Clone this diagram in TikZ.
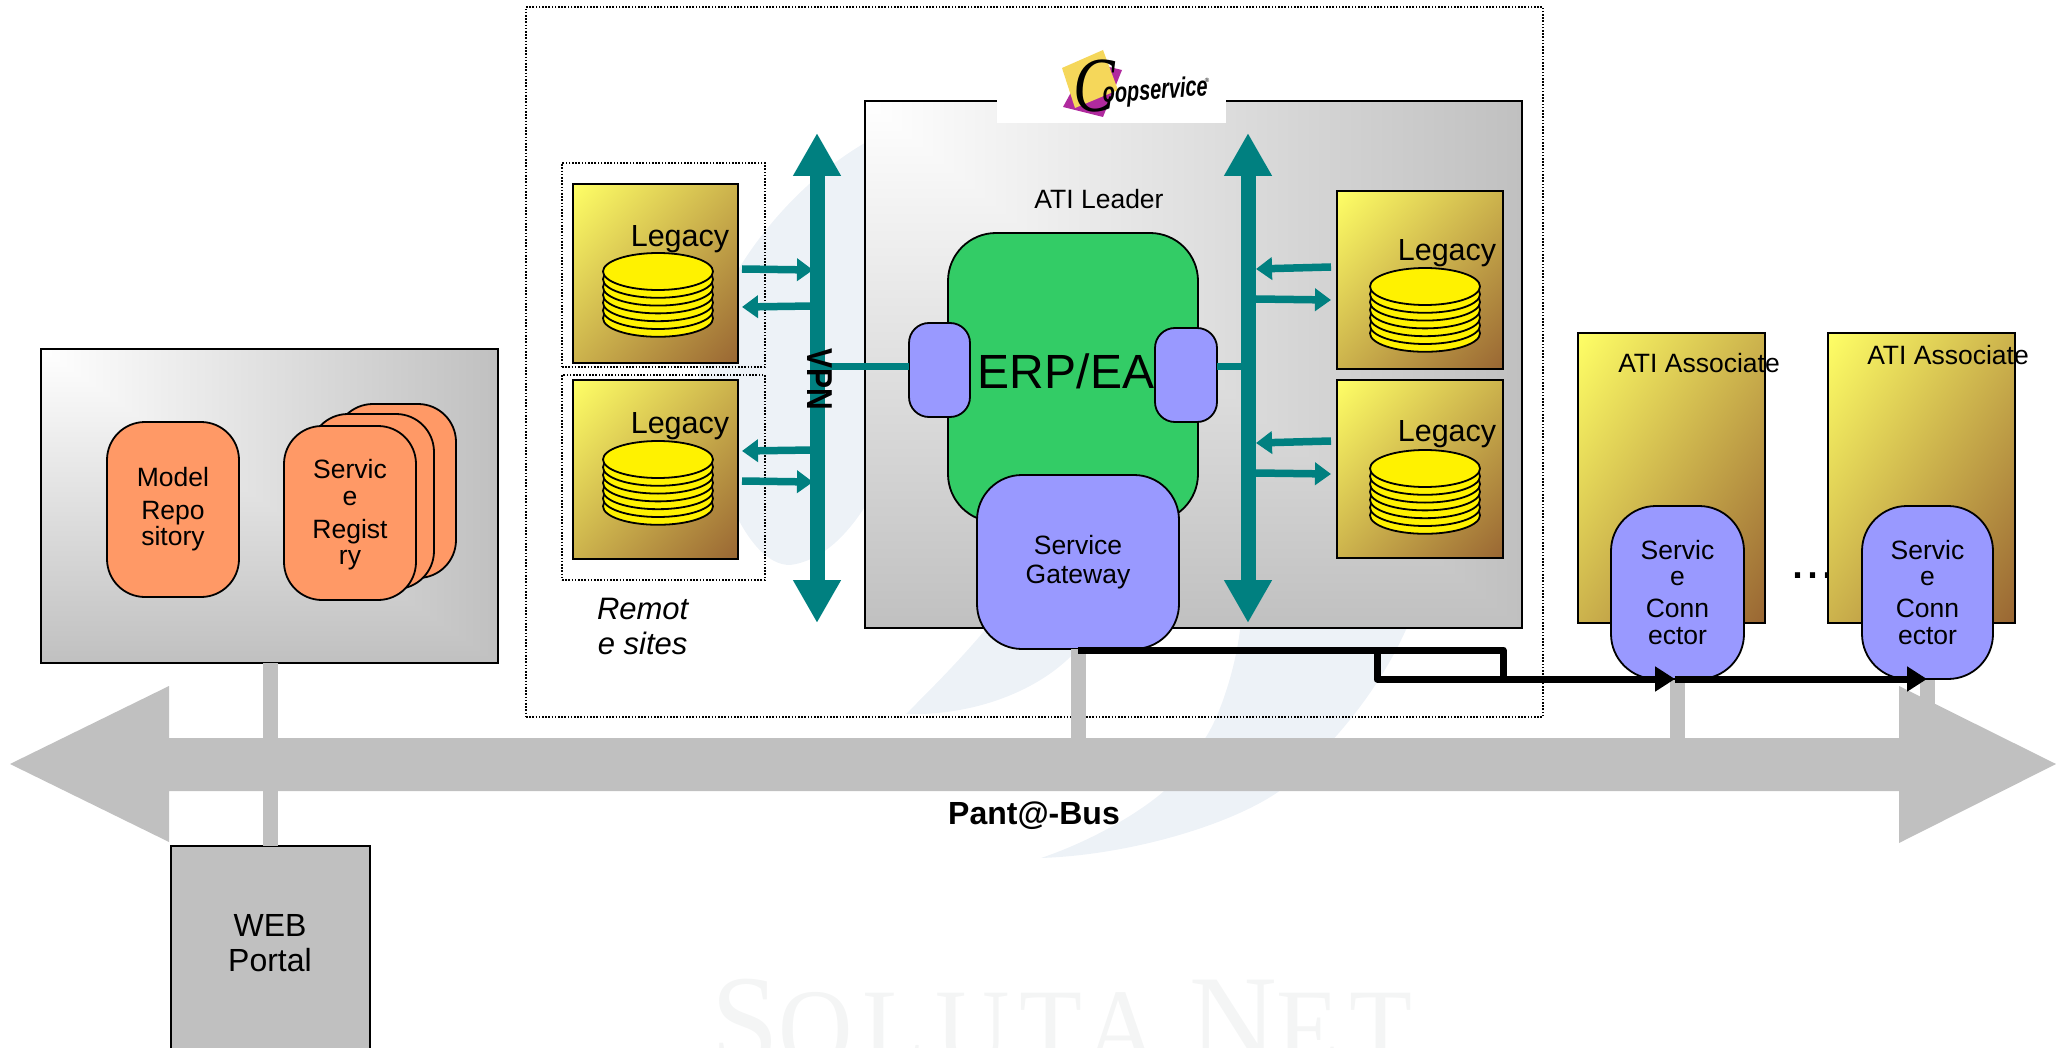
\documentclass[tikz,border=0pt]{standalone}
\usepackage{fontspec}
\setmainfont{Liberation Sans}
\newfontfamily\serifwm{Liberation Serif}
\usetikzlibrary{arrows.meta,calc}
\newcommand\fs[1]{\fontsize{#1}{#1}\selectfont}
\definecolor{teal1}{HTML}{008080}
\definecolor{busgrey}{HTML}{C0C0C0}
\definecolor{peri}{HTML}{9999FF}
\definecolor{ora}{HTML}{FF9966}
\definecolor{grn}{HTML}{33CC66}
\definecolor{wmblue}{HTML}{EDF2F7}
\definecolor{wmgrey}{HTML}{F4F5F5}
\pgfdeclarefunctionalshading{cornergrey}{\pgfpoint{0bp}{0bp}}{\pgfpoint{100bp}{100bp}}{}{
  25 sub 2 mul 100 exch sub exch 25 sub 2 mul 2 copy lt {exch} if pop 100 div 0.247 mul 1 exch sub dup dup }
\pgfdeclarefunctionalshading{goldiag}{\pgfpoint{0bp}{0bp}}{\pgfpoint{100bp}{100bp}}{}{
  25 sub 2 mul 100 exch sub exch 25 sub 2 mul add 200 div dup 0.4 mul 1 exch sub exch dup 0.6 mul 1 exch sub exch 0.2 mul 0.4 exch sub }
\tikzset{
  bx/.style={rectangle,inner sep=0pt,outer sep=0pt,draw=black,line width=1.8pt,align=center},
  greybox/.style={bx,shading=cornergrey},
  goldbox/.style={bx,shading=goldiag},
  dotbox/.style={rectangle,inner sep=0pt,outer sep=0pt,draw=black,line width=1.3pt,dash pattern=on 1.6pt off 1.6pt},
  perinode/.style={bx,fill=peri},
  oranode/.style={bx,fill=ora,rounded corners=38pt},
  lbl/.style={inner sep=0pt,outer sep=0pt,font=\fs{26.5},align=center},
  stub/.style={draw=busgrey,line width=15pt},
  tealbus/.style={draw=teal1,line width=15pt,{Triangle[length=43pt,width=45pt]}-{Triangle[length=43pt,width=45pt]}},
  tealsm/.style={draw=teal1,line width=7.5pt,-{Triangle[length=16pt,width=22pt]}},
  tealln/.style={draw=teal1,line width=7pt},
  flow/.style={draw=black,line width=7pt,line join=round},
  wm/.style={fill=wmblue}
}
\newcommand\bxn[6]{\node[#1,minimum width={(#5-#3)*1pt},minimum height={(#6-#4)*1pt}] (#2) at ({(#3+#5)/2},{(#4+#6)/2})}
\newcommand\dstack[2]{%
  \foreach \k in {6,5,...,0}{\draw[fill=yellow,line width=1.8pt] ({#1},{#2+18.5+\k*7.8}) ellipse [x radius=55,y radius=18.5];}}
\begin{document}
\begin{tikzpicture}[x=1pt,y=-1pt]
\useasboundingbox (0,0) rectangle (2056,1048);
\clip (0,0) rectangle (2056,1048);
% watermark
\fill[wm] (870,140) .. controls (780,190) and (700,300) .. (698,390) .. controls (712,470) and (745,565) .. (790,565) .. controls (830,560) and (860,520) .. (880,480) -- cycle;
\fill[wm] (1041,858) .. controls (1130,855) and (1230,825) .. (1278,792) .. controls (1330,750) and (1380,690) .. (1408,625) -- (1408,600) -- (1242,600) -- (1240,630) .. controls (1235,670) and (1220,715) .. (1206,737) .. controls (1190,760) and (1170,785) .. (1163,792) .. controls (1130,820) and (1080,845) .. (1041,858) -- cycle;
\fill[wm] (906,714) .. controls (930,690) and (960,660) .. (985,630) -- (1085,640) -- (1075,652) .. controls (1040,690) and (975,716) .. (906,714) -- cycle;
\node[inner sep=0pt,anchor=base west,font=\serifwm\fs{132},text=wmgrey,xscale=0.92] (wmtext) at (711,1066) {S{\fs{112}\addfontfeatures{LetterSpace=9.5} OLUTA} N{\fs{112}\addfontfeatures{LetterSpace=9.5} ET}};
% frames
\bxn{dotbox}{outer}{526}{7}{1543}{717} {};
\bxn{greybox}{leader}{865}{101}{1522}{628} {};
\node[fill=white,minimum width=229pt,minimum height=63pt,inner sep=0pt] (logobg) at (1111.5,91.5) {};
\fill[fill={rgb,255:red,176;green,42;blue,158}] (1105,66) -- (1122,70) -- (1103,117) -- (1063,107) -- (1075,85) -- cycle;
\fill[fill={rgb,255:red,245;green,215;blue,90}] (1062,68) -- (1103,50) -- (1118,90) -- (1075,108) -- cycle;
\node[inner sep=0pt,font=\serifwm\itshape\fs{78},xscale=0.8] (logoC) at (1094,86) {C};
\node[inner sep=0pt,anchor=base west,font=\bfseries\itshape\fs{28},xscale=0.71,rotate=3] (logoT) at (1103,103) {oopservice};
\node[inner sep=0pt,font=\fs{6}] (logoR) at (1207,80) {®};
\bxn{dotbox}{site1}{562}{163}{765}{367} {};
\bxn{dotbox}{site2}{562}{375}{765}{580} {};
% bus and stubs
\fill[busgrey] (10,764) -- (169,686) -- (169,738) -- (1899,738) -- (1899,686) -- (2056,764) -- (1899,843) -- (1899,791) -- (169,791) -- (169,842) -- cycle;
\coordinate (busTop) at (1000,740);
\bxn{greybox}{registryBox}{41}{349}{498}{663} {};
\bxn{bx,fill=busgrey}{portal}{171}{846}{370}{1100} {};
\draw[stub] (portal.north |- registryBox.south) -- (portal.north);
\node[lbl,font=\fs{32}] (portalLabel) at (270,943.5) {WEB\\[3pt]Portal};
\node[lbl,font=\bfseries\fs{32}] (busLabel) at (1034,815.5) {Pant@-Bus};
% legacy
\bxn{goldbox}{legA}{573}{184}{738}{363} {};
\bxn{goldbox}{legB}{573}{380}{738}{559} {};
\bxn{goldbox}{legC}{1337}{191}{1503}{369} {};
\bxn{goldbox}{legD}{1337}{380}{1503}{558} {};
\dstack{658}{253}
\dstack{658}{441}
\dstack{1425}{268}
\dstack{1425}{450}
\node[lbl,font=\fs{30.5}] (legAl) at (680,239) {Legacy};
\node[lbl,font=\fs{30.5}] (legBl) at (680,426) {Legacy};
\node[lbl,font=\fs{30.5}] (legCl) at (1447,253) {Legacy};
\node[lbl,font=\fs{30.5}] (legDl) at (1447,434) {Legacy};
\node[lbl,font=\itshape\fs{31},anchor=north west] (remote) at (597,598) {Remot\\[4pt]e sites};
% teal
\coordinate (vpnT) at (817,133); \coordinate (vpnB) at (817,623);
\coordinate (ldrT) at (1248,133); \coordinate (ldrB) at (1248,623);
\draw[tealbus] (vpnT) -- (vpnB);
\draw[tealbus] (ldrT) -- (ldrB);
\coordinate (a1) at (742,269); \coordinate (a1e) at (813,270);
\coordinate (a2) at (813,306); \coordinate (a2e) at (742,307);
\coordinate (a3) at (813,450); \coordinate (a3e) at (742,451);
\coordinate (a4) at (742,481); \coordinate (a4e) at (813,482);
\coordinate (b1) at (1331,267); \coordinate (b1e) at (1256,269);
\coordinate (b2) at (1256,299); \coordinate (b2e) at (1331,300);
\coordinate (b3) at (1331,441); \coordinate (b3e) at (1256,443);
\coordinate (b4) at (1256,473); \coordinate (b4e) at (1331,474);
\foreach \s/\e in {a1/a1e,a2/a2e,a3/a3e,a4/a4e,b1/b1e,b2/b2e,b3/b3e,b4/b4e}{\draw[tealsm] (\s) -- (\e);}
% ATI core
\node[lbl] (leaderL) at (1099,199) {ATI Leader};
\bxn{bx,fill=grn,rounded corners=48pt}{erp}{948}{233}{1198}{522} {};
\bxn{perinode,rounded corners=20pt}{erpL}{909}{323}{970}{417} {};
\bxn{perinode,rounded corners=20pt}{erpR}{1155}{328}{1217}{422} {};
\coordinate (jL) at (817,367); \coordinate (jR) at (1248,367);
\draw[tealln] (jL) -- (erpL.west |- jL);
\draw[tealln] (erpR.east |- jR) -- (jR);
\node[lbl,font=\fs{48}] (erpT) at (1066,371) {ERP/EA};
\node[lbl,font=\bfseries\fs{30},rotate=-90,yscale=1.2] (vpnL) at (820,379) {VPN};
% stubs to bus
\bxn{perinode,rounded corners=45pt,font=\fs{26.5}}{gw}{977}{475}{1179}{649} {Service\\[2pt]Gateway};
% registry contents
\bxn{oranode,font=\fs{26.5}}{repo}{107}{422}{239}{597} {Model\\[6.5pt]Repo\\[-0.5pt]sitory};
\bxn{oranode}{regC}{335}{404}{456}{578} {};
\bxn{oranode}{regB}{310}{414}{434}{589} {};
\bxn{oranode,font=\fs{26.5}}{regA}{284}{426}{416}{600} {\rule{0pt}{22pt}Servic\\[1pt]e\\[6pt]Regist\\[-0.5pt]ry};
% associates
\node[lbl,font=\fs{54},anchor=base west] (dots) at (1790,578) {...};
\bxn{goldbox}{assoc1}{1578}{333}{1765}{623} {};
\bxn{goldbox}{assoc2}{1828}{333}{2015}{623} {};
\node[lbl] (assoc1L) at (1699,363) {ATI Associate};
\node[lbl] (assoc2L) at (1948,355) {ATI Associate};
\draw[stub] (gw.south) -- (gw.south |- busTop);
\coordinate (conA) at (1677,680); \coordinate (conB) at (1927,680);
\draw[stub] (conA) -- (conA |- busTop);
\draw[stub] (conB) -- (conB |- busTop);
\bxn{perinode,rounded corners=45pt,font=\fs{26.5}}{sc1}{1611}{506}{1744}{679} {Servic\\[-0.5pt]e\\[5.5pt]Conn\\[0.5pt]ector};
\bxn{perinode,rounded corners=45pt,font=\fs{26.5}}{sc2}{1862}{506}{1993}{679} {Servic\\[-0.5pt]e\\[5.5pt]Conn\\[0.5pt]ector};
% black flow
\coordinate (f1) at (1503,650); \coordinate (f2) at (1503,679);
\coordinate (f3) at (1377,650); \coordinate (f4) at (1377,679);
\coordinate (tip1) at (1675,679); \coordinate (tip2) at (1927,679);
\draw[flow] (gw.south) ++(0,1) -- (f1) -- (f2);
\draw[flow] (f3) -- (f4) -- (f2);
\draw[flow,-{Triangle[length=20pt,width=24pt]}] (f2) -- (tip1);
\draw[flow,-{Triangle[length=20pt,width=24pt]}] (tip1) -- (tip2);
\end{tikzpicture}
\end{document}
